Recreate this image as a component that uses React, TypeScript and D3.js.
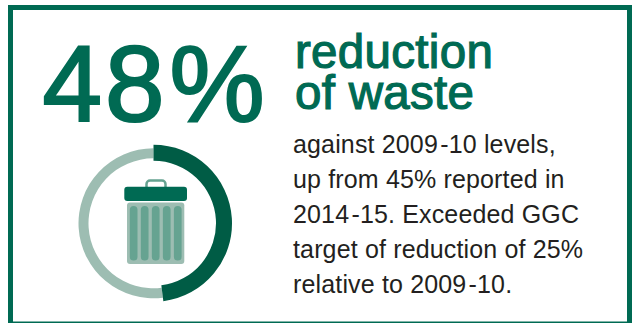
import React from "react";
import * as d3 from "d3";

// Share of waste reduced, and the remainder shown as the pale ring.
const reductionPercent = 48;
const remainderPercent = 100 - reductionPercent;
const headlineValue = "48";
const headlineUnit = "%";
const titleLines = ["reduction", "of waste"];
const bodyLines = [
  "against 2009\u200A-10 levels,",
  "up from 45% reported in",
  "2014\u200A-15. Exceeded GGC",
  "target of reduction of 25%",
  "relative to 2009\u200A-10.",
];
const binRibs = [0, 1, 2, 3, 4];

const GREEN = "#006a53";
const DARK = "#005c45";
const PALE = "#9dbdb2";
const RIB = "#66a391";
const FONT = "'Liberation Sans', Arial, Helvetica, sans-serif";

const W = 637;
const H = 323;
const cx = 153.5;
const cy = 223.3;

export default function App() {
  const slices = d3
    .pie<number>()
    .sort(null)
    .value((d) => d)([reductionPercent, remainderPercent]);
  const darkArc = d3.arc<d3.PieArcDatum<number>>().innerRadius(62.5).outerRadius(78.5);
  const paleArc = d3.arc<d3.PieArcDatum<number>>().innerRadius(65).outerRadius(75);

  const ribX = d3.scaleBand<number>().domain(binRibs).range([129.8, 181.6]).paddingInner(0.3);
  const bodyY = d3.scaleLinear().domain([0, 1]).range([34.5, 96]);

  return (
    <svg
      width={W}
      height={H}
      viewBox={`0 0 ${W} ${H}`}
      style={{ position: "absolute", left: 0, top: 0, background: "#fff" }}
    >
      <rect x={10.5} y={7.5} width={619} height={316.5} fill="none" stroke={GREEN} strokeWidth={5} />

      <text x={42.5} y={120.5} fontFamily={FONT} fontSize={107} letterSpacing={3} fill={GREEN} stroke={GREEN} strokeWidth={2.2}>
        <tspan>{headlineValue}</tspan>
        <tspan dx={2}>{headlineUnit}</tspan>
      </text>

      <g transform={`translate(${cx},${cy})`}>
        <path d={paleArc(slices[1]) ?? ""} fill={PALE} />
        <path d={darkArc(slices[0]) ?? ""} fill={DARK} />
      </g>

      {/* Waste bin: handle, lid, body and ribs */}
      <g transform="translate(0,168)">
        <rect x={146.5} y={12.5} width={19} height={10} rx={3.5} fill="none" stroke={RIB} strokeWidth={2.5} />
        <rect x={124.3} y={18.7} width={62.7} height={14.3} rx={3} fill={GREEN} />
        <rect x={127} y={bodyY(0)} width={57.3} height={bodyY(1) - bodyY(0)} rx={3} fill={PALE} />
        {binRibs.map((r) => (
          <rect
            key={r}
            x={ribX(r)}
            y={bodyY(0) + 3.5}
            width={ribX.bandwidth()}
            height={bodyY(1) - bodyY(0) - 7}
            rx={ribX.bandwidth() / 2}
            fill={RIB}
          />
        ))}
      </g>

      <text fontFamily={FONT} fontSize={47.5} letterSpacing={0.3} fill={GREEN} stroke={GREEN} strokeWidth={1.2}>
        {titleLines.map((t, i) => (
          <tspan key={t} x={295} y={68 + i * 41}>
            {t}
          </tspan>
        ))}
      </text>

      <text fontFamily={FONT} fontSize={25} letterSpacing={0.15} fill="#231f20">
        {bodyLines.map((t, i) => (
          <tspan key={t} x={293} y={153 + i * 34.9}>
            {t}
          </tspan>
        ))}
      </text>
    </svg>
  );
}
